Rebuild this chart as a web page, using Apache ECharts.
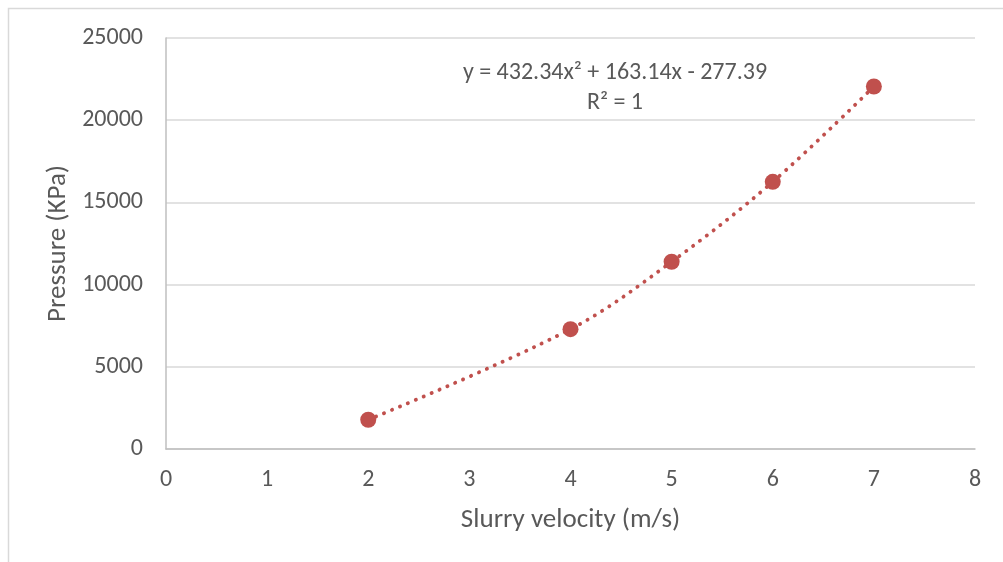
<!DOCTYPE html>
<html>
<head>
<meta charset="utf-8">
<title>Pressure vs slurry velocity</title>
<script src="https://cdn.jsdelivr.net/npm/echarts@6/dist/echarts.min.js"></script>
<style>
  html, body { margin: 0; padding: 0; background: #fff; }
  #chart { width: 1003px; height: 562px; }
</style>
</head>
<body>
<div id="chart"></div>
<script>
// Measured points: slurry velocity (m/s) and pressure (KPa)
var velocity = [2, 4, 5, 6, 7];
var pressure = [1780, 7290, 11390, 16250, 22050];

// Fitted trend equation shown on the chart
var equationLines = ['y = 432.34x\u00B2 + 163.14x - 277.39', 'R\u00B2 = 1'];

var xTicks = [0, 1, 2, 3, 4, 5, 6, 7, 8];
var yTicks = [0, 5000, 10000, 15000, 20000, 25000];

var FONT = 'Carlito, Calibri, Lato, sans-serif';
var TEXT = '#595959';
var RED = '#c0504d';

var points = velocity.map(function (v, i) { return [v, pressure[i]]; });

var chart = echarts.init(document.getElementById('chart'), null, { renderer: 'canvas' });

chart.setOption({
  animation: false,
  backgroundColor: '#ffffff',
  grid: { left: 166, top: 38, right: 28, bottom: 113, containLabel: false },
  xAxis: {
    type: 'value',
    min: xTicks[0],
    max: xTicks[xTicks.length - 1],
    interval: 1,
    name: 'Slurry velocity (m/s)',
    nameLocation: 'middle',
    nameGap: 58,
    nameTextStyle: { fontFamily: FONT, fontSize: 27, color: TEXT },
    axisLine: { show: true, lineStyle: { color: '#bfbfbf', width: 1.5 } },
    axisTick: { show: false },
    splitLine: { show: false },
    axisLabel: { fontFamily: FONT, fontSize: 24, color: TEXT, margin: 19 }
  },
  yAxis: {
    type: 'value',
    min: yTicks[0],
    max: yTicks[yTicks.length - 1],
    interval: 5000,
    name: 'Pressure (KPa)',
    nameLocation: 'middle',
    nameGap: 92,
    nameTextStyle: { fontFamily: FONT, fontSize: 27, color: TEXT },
    axisLine: { show: true, lineStyle: { color: '#bfbfbf', width: 1.5 } },
    axisTick: { show: false },
    splitLine: { show: true, lineStyle: { color: '#d9d9d9', width: 1.5 } },
    axisLabel: {
      fontFamily: FONT, fontSize: 24, color: TEXT, margin: 23,
      formatter: function (v) { return String(v); }
    }
  },
  graphic: [
    {
      type: 'rect',
      silent: true,
      z: -10,
      shape: { x: 8.5, y: 8.5, width: 1100, height: 700 },
      style: { fill: 'none', stroke: '#d9d9d9', lineWidth: 1.5 }
    },
    {
      type: 'text',
      silent: true,
      style: {
        text: equationLines.join('\n'),
        x: 615, y: 58,
        align: 'center',
        verticalAlign: 'top',
        fontFamily: FONT,
        fontSize: 24,
        lineHeight: 30,
        fill: TEXT
      }
    }
  ],
  series: [
    {
      name: 'Trend',
      type: 'line',
      data: points,
      smooth: 0.35,
      showSymbol: false,
      symbol: 'none',
      lineStyle: { color: RED, width: 3.8, type: [0.2, 8.4], cap: 'round' },
      z: 2
    },
    {
      name: 'Pressure',
      type: 'scatter',
      data: points,
      symbol: 'circle',
      symbolSize: 16,
      itemStyle: { color: RED, opacity: 1 },
      z: 3
    }
  ]
});
</script>
</body>
</html>
